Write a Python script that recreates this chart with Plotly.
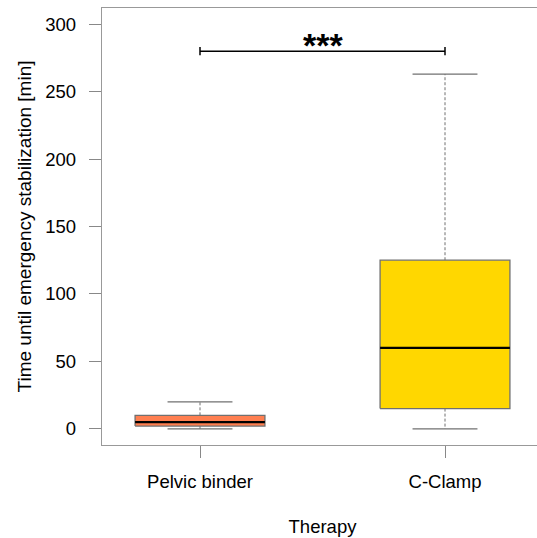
import plotly.graph_objects as go

categories = ["Pelvic binder", "C-Clamp"]
mins = [0, 0]
q1s = [2, 15]
medians = [5, 60]
q3s = [10, 125]
maxs = [20, 263]
fill_colors = ["#FF7F50", "#FFD700"]
y_ticks = [0, 50, 100, 150, 200, 250, 300]
bracket_y = 280
sig_label = "***"

positions = [i + 1 for i in range(len(categories))]
box_w = 0.53
cap_w = box_w / 2
outline = "#707070"
FONT = "Liberation Sans, Arial, sans-serif"
FS = 18.5

fig = go.Figure()

for p, lo, a, m, b, hi, col in zip(positions, mins, q1s, medians, q3s, maxs, fill_colors):
    # dashed whiskers
    fig.add_trace(go.Scatter(x=[p, p, None, p, p], y=[b, hi, None, a, lo], mode="lines",
                             line=dict(color=outline, width=1, dash="3px,2px"),
                             hoverinfo="skip", showlegend=False))
    # caps
    fig.add_trace(go.Scatter(x=[p - cap_w / 2, p + cap_w / 2, None, p - cap_w / 2, p + cap_w / 2],
                             y=[hi, hi, None, lo, lo], mode="lines",
                             line=dict(color=outline, width=1.3),
                             hoverinfo="skip", showlegend=False))
    # box body
    fig.add_trace(go.Scatter(x=[p - box_w / 2, p + box_w / 2, p + box_w / 2, p - box_w / 2, p - box_w / 2],
                             y=[a, a, b, b, a], mode="lines", fill="toself", fillcolor=col,
                             line=dict(color=outline, width=1.3),
                             hoverinfo="skip", showlegend=False))
    # median
    fig.add_trace(go.Scatter(x=[p - box_w / 2, p + box_w / 2], y=[m, m], mode="lines",
                             line=dict(color="black", width=2.2),
                             hoverinfo="skip", showlegend=False))

# significance bracket
fig.add_trace(go.Scatter(x=[positions[0], positions[1]], y=[bracket_y, bracket_y], mode="lines+markers",
                         line=dict(color="black", width=1.5),
                         marker=dict(symbol="line-ns", size=6, line=dict(color="black", width=1.5)),
                         hoverinfo="skip", showlegend=False))
fig.add_annotation(x=(positions[0] + positions[1]) / 2, y=bracket_y, text="<b>" + sig_label + "</b>",
                   showarrow=False, yanchor="bottom", yshift=-15,
                   font=dict(family=FONT, size=34, color="black"))

fig.update_layout(
    width=543, height=538,
    margin=dict(l=102, r=0, t=8, b=93),
    plot_bgcolor="white", paper_bgcolor="white",
    font=dict(family=FONT, size=FS, color="black"),
    showlegend=False,
)
fig.update_xaxes(range=[0.6, 2.4], tickmode="array", tickvals=positions, ticktext=categories,
                 ticks="outside", ticklen=12, tickcolor="#888888", tickwidth=1.3,
                 tickfont=dict(size=FS),
                 showline=True, linecolor="#999999", linewidth=1.3, mirror=True,
                 showgrid=False, zeroline=False, ticklabelstandoff=8,
                 title=dict(text="Therapy", standoff=28, font=dict(size=FS)))
fig.update_yaxes(range=[-12, 312], tickmode="array", tickvals=y_ticks,
                 ticks="outside", ticklen=12, tickcolor="#888888", tickwidth=1.3,
                 tickfont=dict(size=FS),
                 showline=True, linecolor="#999999", linewidth=1.3,
                 showgrid=False, zeroline=False, ticklabelstandoff=9,
                 title=dict(text="Time until emergency stabilization [min]", standoff=8, font=dict(size=19)))

fig.write_html("out.html", config={"displayModeBar": False},
               post_script="document.body.style.margin='0';document.body.style.overflow='hidden';")
